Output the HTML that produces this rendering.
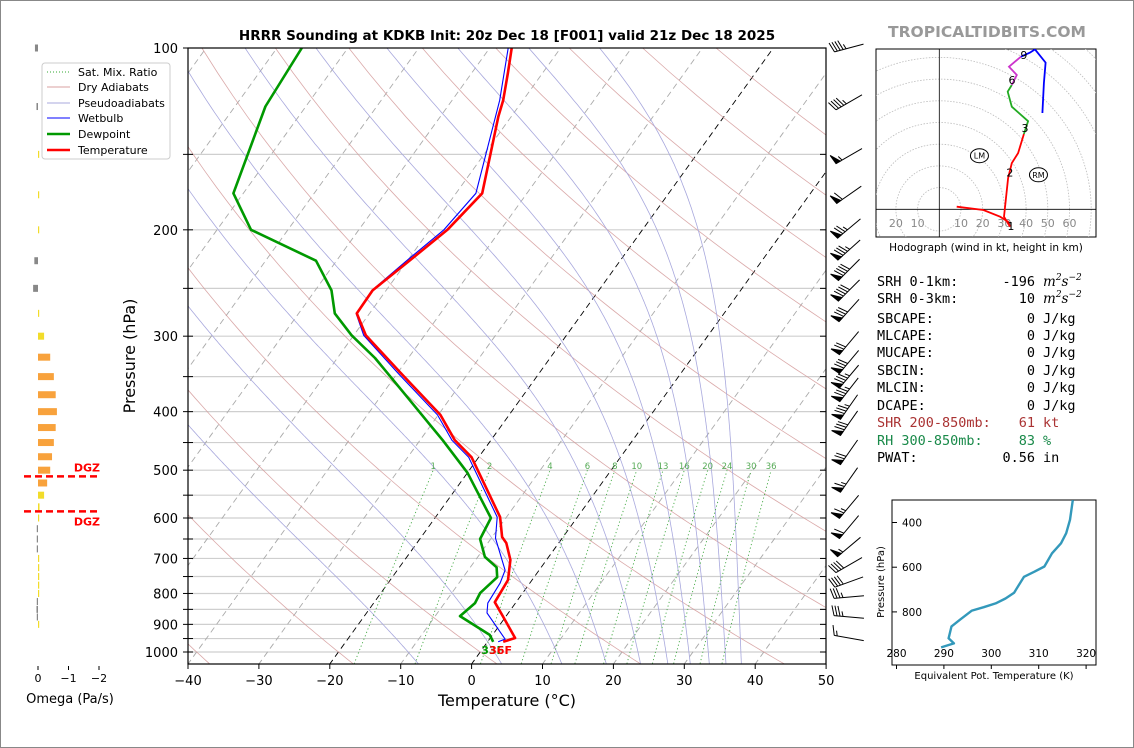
<!DOCTYPE html>
<html><head><meta charset="utf-8"><style>
html,body{margin:0;padding:0;background:#fff;}
svg{display:block;font-family:"DejaVu Sans","Liberation Sans",sans-serif;}
</style></head><body>
<svg id="root" width="1134" height="748" viewBox="0 0 1134 748" xmlns="http://www.w3.org/2000/svg">
<defs>
<clipPath id="mainclip"><rect x="188" y="48" width="638" height="616"/></clipPath>
<clipPath id="hodoclip"><rect x="876" y="49" width="220" height="188"/></clipPath>
<clipPath id="thclip"><rect x="892" y="500" width="204" height="165"/></clipPath>
</defs>
<rect x="0.5" y="0.5" width="1133" height="747" fill="#fff" stroke="#888"/>
<text x="507" y="40" text-anchor="middle" font-size="13.5" font-weight="bold">HRRR Sounding at KDKB Init: 20z Dec 18 [F001] valid 21z Dec 18 2025</text>
<text x="987" y="37" text-anchor="middle" font-size="15.5" font-weight="bold" fill="#999">TROPICALTIDBITS.COM</text>
<g id="main">
<g id="bg" clip-path="url(#mainclip)"></g>
<g id="prof" clip-path="url(#mainclip)"></g>
<rect x="188" y="48" width="638" height="616" fill="none" stroke="#000" stroke-width="1.2"/>
<g id="axes"></g>
</g>
<text x="507" y="706" text-anchor="middle" font-size="16">Temperature (°C)</text>
<text transform="translate(135,356) rotate(-90)" text-anchor="middle" font-size="16">Pressure (hPa)</text>
<g id="barbs"></g>
<g id="omega"></g>
<text x="70" y="703" text-anchor="middle" font-size="13">Omega (Pa/s)</text>
<g>
<rect x="42" y="63" width="128" height="96" rx="3" fill="#fff" fill-opacity="0.85" stroke="#ccc"/>
<line x1="47" y1="72" x2="70" y2="72" stroke="#3a3" stroke-width="1" stroke-dasharray="1,2"/>
<text x="78" y="76" font-size="11">Sat. Mix. Ratio</text>
<line x1="47" y1="87" x2="70" y2="87" stroke="#d8a0a0" stroke-width="1"/>
<text x="78" y="91" font-size="11">Dry Adiabats</text>
<line x1="47" y1="103" x2="70" y2="103" stroke="#a8a8dd" stroke-width="1"/>
<text x="78" y="107" font-size="11">Pseudoadiabats</text>
<line x1="47" y1="118" x2="70" y2="118" stroke="#00f" stroke-width="1"/>
<text x="78" y="122" font-size="11">Wetbulb</text>
<line x1="47" y1="134" x2="70" y2="134" stroke="#090" stroke-width="2.5"/>
<text x="78" y="138" font-size="11">Dewpoint</text>
<line x1="47" y1="150" x2="70" y2="150" stroke="#f00" stroke-width="2.5"/>
<text x="78" y="154" font-size="11">Temperature</text>
</g>
<g id="hodo">
<rect x="876" y="49" width="220" height="188" fill="#fff" stroke="#000"/>
<g id="hodoin" clip-path="url(#hodoclip)"></g>
</g>
<text x="986" y="251" text-anchor="middle" font-size="10.5">Hodograph (wind in kt, height in km)</text>
<g font-family="'DejaVu Sans Mono','Liberation Mono',monospace" font-size="13.5">
<text x="877" y="286">SRH 0-1km:</text><text x="1035" y="286" text-anchor="end">-196</text>
<text x="1043" y="286" font-family="'DejaVu Serif',serif" font-style="italic">m<tspan dy="-6" font-size="9">2</tspan><tspan dy="6">s</tspan><tspan dy="-6" font-size="9">−2</tspan></text>
<text x="877" y="303">SRH 0-3km:</text><text x="1035" y="303" text-anchor="end">10</text>
<text x="1043" y="303" font-family="'DejaVu Serif',serif" font-style="italic">m<tspan dy="-6" font-size="9">2</tspan><tspan dy="6">s</tspan><tspan dy="-6" font-size="9">−2</tspan></text>
<text x="877" y="323">SBCAPE:</text><text x="1035" y="323" text-anchor="end">0</text><text x="1043" y="323">J/kg</text>
<text x="877" y="340">MLCAPE:</text><text x="1035" y="340" text-anchor="end">0</text><text x="1043" y="340">J/kg</text>
<text x="877" y="357">MUCAPE:</text><text x="1035" y="357" text-anchor="end">0</text><text x="1043" y="357">J/kg</text>
<text x="877" y="375">SBCIN:</text><text x="1035" y="375" text-anchor="end">0</text><text x="1043" y="375">J/kg</text>
<text x="877" y="392">MLCIN:</text><text x="1035" y="392" text-anchor="end">0</text><text x="1043" y="392">J/kg</text>
<text x="877" y="410">DCAPE:</text><text x="1035" y="410" text-anchor="end">0</text><text x="1043" y="410">J/kg</text>
<g fill="#a33">
<text x="877" y="427">SHR 200-850mb:</text><text x="1035" y="427" text-anchor="end">61</text><text x="1043" y="427">kt</text></g>
<g fill="#1a8a4a">
<text x="877" y="445">RH 300-850mb:</text><text x="1035" y="445" text-anchor="end">83</text><text x="1043" y="445">%</text></g>
<text x="877" y="462">PWAT:</text><text x="1035" y="462" text-anchor="end">0.56</text><text x="1043" y="462">in</text>
</g>
<g id="theta">
<rect x="892" y="500" width="204" height="165" fill="#fff" stroke="#000"/>
<g id="thin" clip-path="url(#thclip)"></g>
<g id="thaxes"></g>
</g>
<text transform="translate(884,582) rotate(-90)" text-anchor="middle" font-size="10">Pressure (hPa)</text>
<text x="994" y="679" text-anchor="middle" font-size="10">Equivalent Pot. Temperature (K)</text>
</svg>
<script>
// ---------- DATA ----------
const tempP = [100,110,122,130,174,200,226,252,275,299,345,405,446,476,598,645,660,704,760,827,875,948,962];
const tempT = [-56.9,-54.9,-52.8,-51.8,-46.3,-47.5,-49.8,-51.9,-51.8,-48.3,-39.6,-29.7,-25.1,-21,-10.9,-8.6,-7.4,-5.1,-3.4,-3.0,-0.3,3.5,2.2];
const dewP = [100,125,174,200,225,252,275,299,326,375,421,446,505,600,650,696,724,752,799,830,872,937,962];
const dewT = [-86.5,-85.7,-81.4,-75.2,-62.9,-57.7,-54.9,-50.3,-44.7,-36.7,-30.1,-26.8,-20,-12.1,-11.5,-9,-6.3,-5.2,-6,-5.7,-6.5,-0.4,0.8];
const wbP = [100,122,174,200,226,252,275,299,345,405,446,476,598,648,732,769,830,862,952,962];
const wbT = [-57.4,-53.3,-47.2,-48,-50.2,-52.0,-51.9,-48.6,-40.0,-30.1,-25.5,-21.4,-11.3,-9.4,-4.8,-4.2,-3.9,-3.0,2.2,1.5];
const mixRatios = [1,2,4,6,8,10,13,16,20,24,30,36];
const isotherms = [-100,-90,-80,-70,-60,-50,-40,-30,-20,-10,0,10,20,30,40,50];
const dryT0 = [-40,-20,0,20,40,60,80,100,120,140,160,180,200];
const moistT100 = [-134.5,-124.5,-114.5,-104.5,-94.5,-84.5,-74.5,-64.5,-54.5,-44.5];
const pLines = [150,200,250,300,350,400,450,500,550,600,650,700,750,800,850,900,950,1000];
const pLabels = [100,200,300,400,500,600,700,800,900,1000];
const xTicks = [-40,-30,-20,-10,0,10,20,30,40,50];
// omega
const omegaP = [100,125,150,175,200,225,250,275,300,325,350,375,400,425,450,475,500,525,550,575,600,625,650,675,700,725,750,775,800,825,850,875,900];
const omegaV = [0.1,0.05,0,-0.02,0,0.12,0.16,0,-0.2,-0.4,-0.52,-0.58,-0.62,-0.58,-0.52,-0.46,-0.4,-0.3,-0.2,-0.05,0,0.04,0.04,0.04,0,-0.04,-0.04,-0.04,0,0.04,0.05,0.04,0];
const omegaTicks = [0,-1,-2];
const dgzP = [512,585];
// winds
const barbP = [100,123,151,175,199,216,233,252,272,308,331,350,368,393,418,467,519,575,621,670,718,766,811,875,948];
const barbDir = [255,240,240,235,230,228,225,225,222,220,220,220,218,215,215,215,215,220,220,230,240,250,265,275,280];
const barbSpd = [45,45,55,60,75,85,90,90,80,70,80,85,85,85,80,70,65,65,60,55,40,40,35,35,15];
// hodograph (u,v kt)
const hodoRedU = [8.0,20.3,28,31.7,32.6,29.8,31.7,33.4,36.3,39];
const hodoRedV = [1.2,-0.3,-3.4,-5.7,-8,-3.4,14.4,21.3,25.9,34.7];
const hodoGreenU = [39,40.9,33.4,31.5,33.4];
const hodoGreenV = [34.7,40.6,47.3,54.2,57.3];
const hodoMagU = [33.4,35.7,32.1,37.6];
const hodoMagV = [57.3,61.9,65.7,70.3];
const hodoBlueU = [37.6,41.8,44.1,49,48.2,47.5];
const hodoBlueV = [70.3,72.2,73.7,67.6,58.2,44.4];
const hodoRings = [10,20,30,40,50,60,70,80,90,100];
const hodoTickLabels = [-20,-10,10,20,30,40,50,60];
const hodoHeightLabels = ["1","2","3","6","9"];
const hodoHeightU = [33,32.5,39.5,33.5,39];
const hodoHeightV = [-7.8,17,37.5,59.5,71];
// theta-e
const thP = [300,388,448,493,538,597,620,643,714,740,762,779,794,835,865,918,941,959];
const thV = [317.2,316.6,315.8,314.7,312.8,311.2,309.1,306.9,304.8,303,300.9,298.4,295.9,293.4,291.6,291,292.1,289.4];
const thXTicks = [280,290,300,310,320];
const thYTicks = [400,600,800];

// ---------- HELPERS ----------
const NS = "http://www.w3.org/2000/svg";
function mk(parent, tag, attrs, text){const e=document.createElementNS(NS,tag);for(const k in attrs)e.setAttribute(k,attrs[k]);if(text!==undefined)e.textContent=text;parent.appendChild(e);return e;}
const yP = p => 48 + 604*Math.log10(p/100);
const xT = (T,p) => 188 + (T+40)*7.09 + 0.72*(664 - yP(p));
function pathFrom(ps, ts){return ps.map((p,i)=>(i?'L':'M')+xT(ts[i],p).toFixed(1)+','+yP(p).toFixed(1)).join(' ');}
const bg = document.getElementById('bg'), prof = document.getElementById('prof'), axes = document.getElementById('axes');

pLines.forEach(p=>{
 const l = mk(bg,'line',{x1:188,x2:826,y1:yP(p),y2:yP(p),stroke:'#cfcfcf','stroke-width':1.2});
 
 
});
isotherms.forEach(T=>{
 const blk = (T===0||T===-20);
 const l = mk(bg,'line',{x1:xT(T,1050),y1:yP(1050),x2:xT(T,95),y2:yP(95),stroke:blk?'#000':'#aaa','stroke-width':0.9,'stroke-dasharray':'6,4'});
 
 
});
dryT0.forEach(t0=>{
 const th=t0+273.15; const ps=[],ts=[];
 for(let p=1060;p>=90;p-=10){ps.push(p);ts.push(th*Math.pow(p/1000,0.2857)-273.15);}
 const l=mk(bg,'path',{d:pathFrom(ps,ts),fill:'none',stroke:'#d49a9a','stroke-width':0.8,'stroke-opacity':0.85});
 
 
});
function es(T){return 6.112*Math.exp(17.67*(T-273.15)/(T-29.65));}
function dTdp(T,p){const eps=0.622,Rd=287,Lv=2.501e6,cp=1005;const e=es(T);const rs=eps*e/Math.max(p-e,1);return (Rd*T+Lv*rs)/(p*(cp+Lv*Lv*rs*eps/(Rd*T*T)));}
moistT100.forEach(t=>{
 let T=t+273.15; const ps=[100],ts=[t];
 for(let p=100;p<1060;p+=2){const k1=dTdp(T,p);const k2=dTdp(T+k1,p+2);T+= (k1+k2);ps.push(p+2);ts.push(T-273.15);}
 const l=mk(bg,'path',{d:pathFrom(ps,ts),fill:'none',stroke:'#a8a8dd','stroke-width':0.8});
 
 
});
mixRatios.forEach(w=>{
 const ps=[],ts=[];
 for(let p=1060;p>=500;p-=20){const e=w*p/(622+w);const a=Math.log(e/6.112);ps.push(p);ts.push(243.5*a/(17.67-a));}
 const l=mk(bg,'path',{d:pathFrom(ps,ts),fill:'none',stroke:'#4a4','stroke-width':0.9,'stroke-dasharray':'1.2,2.5'});
 
 
 const e=w*500/(622+w);const a=Math.log(e/6.112);const td=243.5*a/(17.67-a);
 const t=mk(bg,'text',{x:xT(td,500),y:yP(500)-1,'font-size':8.5,fill:'#5a5','text-anchor':'middle'},String(w));
 
 
});
let pe=mk(prof,'path',{d:pathFrom(dewP,dewT),fill:'none',stroke:'#090','stroke-width':2.6,'stroke-linejoin':'round'});


pe=mk(prof,'path',{d:pathFrom(wbP,wbT),fill:'none',stroke:'#00f','stroke-width':1.1});


pe=mk(prof,'path',{d:pathFrom(tempP,tempT),fill:'none',stroke:'#f00','stroke-width':2.6,'stroke-linejoin':'round'});


const sfcT = tempT[tempT.length-1], sfcTd = dewT[dewT.length-1], sfcP = tempP[tempP.length-1];
let lab=mk(prof,'text',{x:xT(sfcTd,sfcP)-12,y:yP(sfcP)+12,'font-size':11,'font-weight':'bold',fill:'#090'},Math.round(sfcTd*9/5+32)+'F');


lab=mk(prof,'text',{x:xT(sfcT,sfcP)-14,y:yP(sfcP)+12,'font-size':11,'font-weight':'bold',fill:'#f00'},Math.round(sfcT*9/5+32)+'F');


xTicks.forEach(T=>{
 const x=188+(T+40)*7.09;
 mk(axes,'line',{x1:x,x2:x,y1:664,y2:669,stroke:'#000'});
 const t=mk(axes,'text',{x:x,y:685,'font-size':13,'text-anchor':'middle'},T<0?'\u2212'+Math.abs(T):String(T));
 
 
});
pLines.concat([100]).forEach(p=>{
 mk(axes,'line',{x1:183,x2:193,y1:yP(p),y2:yP(p),stroke:'#000'});
 mk(axes,'line',{x1:820,x2:826,y1:yP(p),y2:yP(p),stroke:'#000'});
});
pLabels.forEach(p=>{
 const t=mk(axes,'text',{x:178,y:yP(p)+5,'font-size':13,'text-anchor':'end'},String(p));
 
 
});
const bG=document.getElementById('barbs');
barbP.forEach((p,i)=>{
 const d=barbDir[i]*Math.PI/180, spd=barbSpd[i];
 const ux=Math.sin(d), uy=-Math.cos(d); const nx=-uy, ny=ux;
 const cx=849, cy=yP(p), L=30;
 const tx=cx+ux*L/2, ty=cy+uy*L/2, hx=cx-ux*L/2, hy=cy-uy*L/2;
 const g=mk(bG,'g',{stroke:'#000','stroke-width':1,fill:'#000'});
 
 
 mk(g,'line',{x1:tx,y1:ty,x2:hx,y2:hy});
 let s=Math.round(spd/5)*5, pos=0;
 const at=q=>[tx-ux*q, ty-uy*q];
 while(s>=50){const a=at(pos),b=at(pos+5);mk(g,'polygon',{points:`${a[0]},${a[1]} ${a[0]+nx*10+ux*1},${a[1]+ny*10+uy*1} ${b[0]},${b[1]}`});pos+=6;s-=50;}
 if(pos>0)pos+=1;
 while(s>=10){const a=at(pos);mk(g,'line',{x1:a[0],y1:a[1],x2:a[0]+nx*10+ux*3,y2:a[1]+ny*10+uy*3});pos+=3;s-=10;}
 if(s>=5){if(pos===0)pos=3;const a=at(pos);mk(g,'line',{x1:a[0],y1:a[1],x2:a[0]+nx*5+ux*1.5,y2:a[1]+ny*5+uy*1.5});}
});
const oG=document.getElementById('omega');
const xO=v=>38-v*30.5;
omegaP.forEach((p,i)=>{
 const v=omegaV[i]; const x0=Math.min(xO(0),xO(v)), w=Math.max(Math.abs(xO(v)-xO(0)),1.2);
 const col=v>0?'#888':(v<=-0.3?'#f8a23c':'#f2dc2a');
 const r=mk(oG,'rect',{x:x0,y:yP(p)-3.5,width:w,height:7,fill:col});
 
 
});
omegaTicks.forEach(v=>{
 mk(oG,'line',{x1:xO(v),x2:xO(v),y1:666,y2:670,stroke:'#000'});
 const t=mk(oG,'text',{x:xO(v),y:682,'font-size':11,'text-anchor':'middle'},v<0?'\u2212'+Math.abs(v):String(v));
 
 
});
dgzP.forEach((p,i)=>{
 const l=mk(oG,'line',{x1:24,x2:99,y1:yP(p),y2:yP(p),stroke:'#f00','stroke-width':2.5,'stroke-dasharray':'7,4'});
 
 
 const t=mk(oG,'text',{x:100,y:i===0?yP(p)-5:yP(p)+14,'font-size':11,'font-weight':'bold',fill:'#f00','text-anchor':'end'},'DGZ');
 
 
});
const hG=document.getElementById('hodoin');
const ox=939.3, oy=209.3, kk=2.17;
const hx=u=>ox+u*kk, hy=v=>oy-v*kk;
hodoRings.forEach(r=>{const c=mk(hG,'circle',{cx:ox,cy:oy,r:r*kk,fill:'none',stroke:'#bbb','stroke-width':0.8,'stroke-dasharray':'1.5,1.5'});
 
 });
mk(hG,'line',{x1:876,x2:1096,y1:oy,y2:oy,stroke:'#000','stroke-width':0.8});
mk(hG,'line',{x1:ox,x2:ox,y1:49,y2:237,stroke:'#000','stroke-width':0.8});
hodoTickLabels.forEach(v=>{const t=mk(hG,'text',{x:hx(v),y:227,'font-size':11,fill:'#888','text-anchor':'middle'},String(Math.abs(v)));
 
 });
[[hodoRedU,hodoRedV,'#f00','hodo-0-3km'],[hodoGreenU,hodoGreenV,'#2a2','hodo-3-6km'],[hodoMagU,hodoMagV,'#c3c','hodo-6-9km'],[hodoBlueU,hodoBlueV,'#00f','hodo-9-12km']].forEach(s=>{
 const d=s[0].map((u,i)=>(i?'L':'M')+hx(u).toFixed(1)+','+hy(s[1][i]).toFixed(1)).join(' ');
 const pth=mk(hG,'path',{d:d,fill:'none',stroke:s[2],'stroke-width':1.8});
 
 
});
hodoHeightLabels.forEach((t,i)=>{const e=mk(hG,'text',{x:hx(hodoHeightU[i]),y:hy(hodoHeightV[i])+4,'font-size':11,'text-anchor':'middle'},t);
 
 });
[['LM',18.5,24.7],['RM',45.7,15.9]].forEach(m=>{
 const g=mk(hG,'g',{});
 
 
 mk(g,'ellipse',{cx:hx(m[1]),cy:hy(m[2]),rx:9,ry:7,fill:'#fff',stroke:'#000','stroke-width':1});
 mk(g,'text',{x:hx(m[1]),y:hy(m[2])+3,'font-size':8,'text-anchor':'middle'},m[0]);
});
const tI=document.getElementById('thin'), tA=document.getElementById('thaxes');
const thx=v=>896.5+(v-280)*4.74, thy=p=>522.5+(p-400)*0.2235;
const td=thP.map((p,i)=>(i?'L':'M')+thx(thV[i]).toFixed(1)+','+thy(p).toFixed(1)).join(' ');
const tp=mk(tI,'path',{d:td,fill:'none',stroke:'#3399bb','stroke-width':2.4,'stroke-linejoin':'round'});


thXTicks.forEach(v=>{mk(tA,'line',{x1:thx(v),x2:thx(v),y1:665,y2:669,stroke:'#000'});
 const t=mk(tA,'text',{x:thx(v),y:657,'font-size':10.5,'text-anchor':'middle'},String(v));
 
 });
thYTicks.forEach(p=>{mk(tA,'line',{x1:892,x2:897,y1:thy(p),y2:thy(p),stroke:'#000'});
 const t=mk(tA,'text',{x:922,y:thy(p)+4,'font-size':10.5,'text-anchor':'end'},String(p));
 
 });
</script>
</body></html>
